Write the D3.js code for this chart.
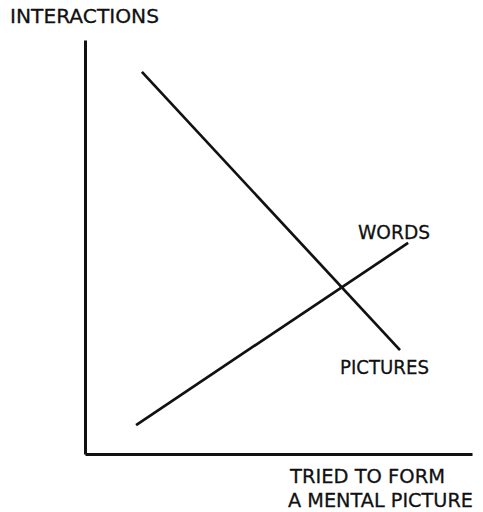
<!DOCTYPE html>
<html>
<head>
<meta charset="utf-8">
<script src="https://cdn.jsdelivr.net/npm/d3@7"></script>
<style>
  body { margin: 0; background: #fff; }
  text { font-family: "DejaVu Sans", sans-serif; fill: #111; font-size: 20px; stroke: #111; stroke-width: 0.3px; }
</style>
</head>
<body>
<div id="chart"></div>
<script>
// line endpoints, in arbitrary units (no ticks on the original)
let series = ["PICTURES", "WORDS"]
let pictures_x = [1.47, 8.14]
let pictures_y = [9.23, 2.51]
let words_x = [1.32, 8.35]
let words_y = [0.70, 5.10]
let y_label = "INTERACTIONS"
let x_label = ["TRIED TO FORM", "A MENTAL PICTURE"]

var width = 483, height = 512

var svg = d3.select("#chart")
    .append("svg")
    .attr("width", width)
    .attr("height", height)

var x = d3.scaleLinear()
    .domain([0, 10])
    .range([85, 472])
var y = d3.scaleLinear()
    .domain([0, 10])
    .range([454, 40])

// axes, plain lines only
svg.append("g")
    .attr("transform", "translate(0," + y(0) + ")")
    .call(d3.axisBottom(x).ticks(0).tickSizeOuter(0))
svg.append("g")
    .attr("transform", "translate(" + x(0) + ",0)")
    .call(d3.axisLeft(y).ticks(0).tickSizeOuter(0))
svg.selectAll(".domain")
    .attr("stroke", "#111")
    .attr("stroke-width", 3)

var line = d3.line()
    .x(function (d) { return x(d[0]) })
    .y(function (d) { return y(d[1]) })

var lines = [
    {name: series[0], pts: d3.zip(pictures_x, pictures_y)},
    {name: series[1], pts: d3.zip(words_x, words_y)}
]

svg.selectAll(".series")
    .data(lines)
    .enter()
    .append("path")
    .attr("class", "series")
    .attr("d", function (d) { return line(d.pts) })
    .attr("fill", "none")
    .attr("stroke", "#111")
    .attr("stroke-width", 2.7)

// labels (text widths fitted to the scan)
svg.append("text")
    .attr("x", 10)
    .attr("y", 23)
    .attr("textLength", 149)
    .attr("lengthAdjust", "spacingAndGlyphs")
    .text(y_label)

svg.append("text")
    .attr("x", 358)
    .attr("y", 239)
    .attr("textLength", 72)
    .attr("lengthAdjust", "spacingAndGlyphs")
    .text(series[1])

svg.append("text")
    .attr("x", 340)
    .attr("y", 374)
    .attr("textLength", 89)
    .attr("lengthAdjust", "spacingAndGlyphs")
    .text(series[0])

var xlab_len = [155, 185]
svg.selectAll(".xlab")
    .data(x_label)
    .enter()
    .append("text")
    .attr("class", "xlab")
    .attr("x", function (d, i) { return i == 0 ? 290 : 288 })
    .attr("y", function (d, i) { return 483 + i * 24 })
    .attr("textLength", function (d, i) { return xlab_len[i] })
    .attr("lengthAdjust", "spacingAndGlyphs")
    .text(function (d) { return d })
</script>
</body>
</html>
